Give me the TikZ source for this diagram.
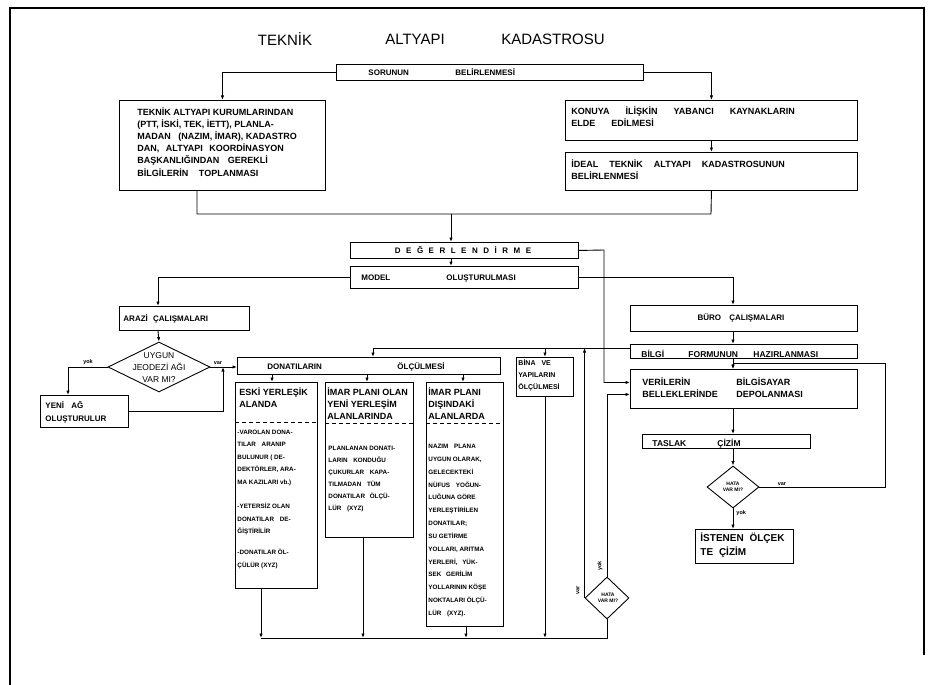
\documentclass[tikz,border=0pt]{standalone}
\usepackage{fontspec}
\setmainfont{Liberation Sans}
\usetikzlibrary{arrows.meta,shapes.geometric}
\newcommand\lsp{\hspace{5.5pt}}
\begin{document}
\begin{tikzpicture}[x=1pt,y=-1pt,line width=0.9pt,
  >={Latex[length=4.5pt,width=3.4pt]},
  box/.style={draw,line width=0.9pt,inner sep=0pt,anchor=north west},
  btxt/.style={inner sep=0pt,anchor=north west,align=left,font=\fontsize{9}{12.2}\selectfont\bfseries},
  htxt/.style={inner sep=0pt,anchor=north west,align=left,font=\fontsize{9}{12}\selectfont\bfseries},
  ctxt/.style={inner sep=0pt,anchor=north west,align=left,font=\fontsize{6.3}{12.4}\selectfont\bfseries},
  stxt/.style={inner sep=0pt,anchor=base west,font=\fontsize{8}{9}\selectfont\bfseries},
  lbl/.style={inner sep=0pt,font=\fontsize{5.5}{6}\selectfont\bfseries},
  dia/.style={draw,diamond,line width=0.9pt,inner sep=0pt},
  ttl/.style={inner sep=0pt,font=\fontsize{15}{15}\selectfont},
  sep/.style={dash pattern=on 4pt off 3pt,line width=0.7pt}
]
\useasboundingbox (0,0) rectangle (935,685);
% frame
\coordinate (f1) at (10,685);
\coordinate (f2) at (10,8);
\coordinate (f3) at (924,8);
\coordinate (f4) at (924,655);
\draw[line width=1.3pt] (f1) -- (f2) -- (f3) -- (f4);

% helper columns
\coordinate (xr) at (733,0);
\coordinate (xl) at (158,0);
\coordinate (xy) at (68,0);
\coordinate (xj) at (223,0);
\coordinate (c1) at (272,0);
\coordinate (c2) at (367,0);
\coordinate (c3) at (463,0);
\coordinate (h1) at (373,348);
\coordinate (dv) at (604,250);
\coordinate (lp) at (885,363);
\coordinate (b1) at (261,638);
\coordinate (b2) at (363,638);
\coordinate (b3) at (466,638);
\coordinate (b4) at (545,638);
\coordinate (b5) at (607,638);
\coordinate (jn) at (451,214);
\coordinate (jL) at (197,214);
\coordinate (jR) at (711,214);
\coordinate (kb) at (197,190);

% title
\node[ttl] (t1) at (285,39) {TEKNİK};
\node[ttl] (t2) at (415,39) {ALTYAPI};
\node[ttl] (t3) at (553,39) {KADASTROSU};

% top box
\node[box,minimum width=307pt,minimum height=16pt] (sor) at (336,64) {};
\node[stxt] (sorA) at (368,75.5) {SORUNUN};
\node[stxt] (sorB) at (455,75.5) {BELİRLENMESİ};

% left big box
\node[box,minimum width=206pt,minimum height=90pt] (kur) at (119,100) {};
\node[btxt] (kurT) at (137,106.9) {TEKNİK ALTYAPI KURUMLARINDAN\\
(PTT, İSKİ, TEK, İETT), PLANLA-\\
MADAN\hspace{5pt} (NAZIM, İMAR), KADASTRO\\
DAN,\hspace{4pt} ALTYAPI\hspace{4pt} KOORDİNASYON\\
BAŞKANLIĞINDAN\hspace{6pt} GEREKLİ\\
BİLGİLERİN\hspace{8pt} TOPLANMASI};

% right boxes
\node[box,minimum width=292pt,minimum height=40pt] (kon) at (565,100) {};
\node[btxt] (konT) at (571,105.9) {KONUYA\hspace{16pt}İLİŞKİN\hspace{16pt}YABANCI\hspace{16pt}KAYNAKLARIN\\ELDE\hspace{16pt}EDİLMESİ};
\node[box,minimum width=292pt,minimum height=38pt] (ide) at (565,152) {};
\node[btxt] (ideT) at (571,158.9) {İDEAL\hspace{11pt}TEKNİK\hspace{11pt}ALTYAPI\hspace{11pt}KADASTROSUNUN\\BELİRLENMESİ};

\draw[->] (sor.west) -| (kur.north);
\draw[->] (sor.east) -| (kon.north);
\draw[->] (kon.south) -- (ide.north);
\draw (kb) -- (jL) -- (jR) -- (ide.south);

% evaluation / model
\node[box,minimum width=228pt,minimum height=16pt] (deg) at (350,242) {};
\node[inner sep=0pt,font=\fontsize{8}{9}\selectfont\bfseries] (degT) at (463,250.5) {D\lsp E\lsp Ğ\lsp E\lsp R\lsp L\lsp E\lsp N\lsp D\lsp İ\lsp R\lsp M\lsp E};
\node[box,minimum width=228pt,minimum height=22pt] (model) at (350,266) {};
\node[stxt] (modA) at (361,280) {MODEL};
\node[stxt] (modB) at (446,280) {OLUŞTURULMASI};
\draw[->] (jn) -- (jn |- deg.north);
\draw[->] (deg.south -| jn) -- (model.north -| jn);

% arazi
\node[box,minimum width=130pt,minimum height=24pt] (arazi) at (119,306) {};
\node[stxt] (araT) at (123,321) {ARAZİ\hspace{3pt} ÇALIŞMALARI};
\draw[->] (model.west) -| (arazi.north -| xl);

% diamond uygun
\node[dia,minimum width=102pt,minimum height=50pt] (uyg) at (159,367) {};
\node[inner sep=0pt,align=center,font=\fontsize{8.5}{12}\selectfont] (uygT) at (159,368) {UYGUN\\JEODEZİ AĞI\\VAR MI?};
\draw[->] (arazi.south -| xl) -- (uyg.north);

% yeni ag
\node[box,minimum width=88pt,minimum height=32pt] (yeni) at (40,395) {};
\node[inner sep=0pt,anchor=north west,align=left,font=\fontsize{8}{13}\selectfont\bfseries] (yeniT) at (45,400.8) {YENİ\hspace{5pt} AĞ\\OLUŞTURULUR};
\draw[->] (uyg.west) -| (yeni.north -| xy);
\node[lbl,anchor=south] (l1) at (88,365.5) {yok};
\draw[->] (yeni.east) -| (uyg.east -| xj);

% donatilarin
\node[box,minimum width=263pt,minimum height=17pt] (don) at (237,357) {};
\node[stxt] (donA) at (267,369) {DONATILARIN};
\node[stxt] (donB) at (397,369) {ÖLÇÜLMESİ};
\draw[->] (uyg.east) -- (uyg.east -| don.west);
\node[lbl,anchor=south] (l2) at (218,365.5) {var};

% columns
\node[box,minimum width=82pt,minimum height=206pt] (eski) at (235,382) {};
\node[htxt] (eskiH) at (239,386.9) {ESKİ YERLEŞİK\\ALANDA};
\draw[sep] ([yshift=-40pt]eski.north west) -- ([yshift=-40pt]eski.north east);
\node[ctxt] (eskiT) at (237,429.7) {-VAROLAN DONA-\\
TILAR\hspace{4pt} ARANIP\\
BULUNUR ( DE-\\
DEKTÖRLER, ARA-\\
MA KAZILARI vb.)\\[12.4pt]
-YETERSİZ OLAN\\
DONATILAR\hspace{4pt} DE-\\
ĞİŞTİRİLİR\\[8.6pt]
-DONATILAR ÖL-\\
ÇÜLÜR (XYZ)};

\node[box,minimum width=88pt,minimum height=155pt] (imar) at (325,382) {};
\node[htxt] (imarH) at (327,386.9) {İMAR PLANI OLAN\\YENİ YERLEŞİM\\ALANLARINDA};
\draw[sep] ([yshift=-41pt]imar.north west) -- ([yshift=-41pt]imar.north east);
\node[ctxt,font=\fontsize{6.3}{12}\selectfont\bfseries] (imarT) at (328,445.7) {PLANLANAN DONATI-\\
LARIN\hspace{4pt} KONDUĞU\\
ÇUKURLAR\hspace{4pt} KAPA-\\
TILMADAN\hspace{4pt} TÜM\\
DONATILAR\hspace{3pt} ÖLÇÜ-\\
LÜR\hspace{4pt} (XYZ)};

\node[box,minimum width=77pt,minimum height=244pt] (dis) at (426,382) {};
\node[htxt] (disH) at (428,386.9) {İMAR PLANI\\DIŞINDAKİ\\ALANLARDA};
\draw[sep] ([yshift=-41pt]dis.north west) -- ([yshift=-41pt]dis.north east);
\node[ctxt,font=\fontsize{6.3}{12.85}\selectfont\bfseries] (disT) at (428,443.7) {NAZIM\hspace{4pt} PLANA\\
UYGUN OLARAK,\\
GELECEKTEKİ\\
NÜFUS\hspace{4pt} YOĞUN-\\
LUĞUNA GÖRE\\
YERLEŞTİRİLEN\\
DONATILAR;\\
SU GETİRME\\
YOLLARI, ARITMA\\
YERLERİ,\hspace{3pt} YÜK-\\
SEK\hspace{3pt} GERİLİM\\
YOLLARININ KÖŞE\\
NOKTALARI ÖLÇÜ-\\
LÜR\hspace{4pt} (XYZ).};

\node[box,minimum width=57pt,minimum height=39pt] (bina) at (516,357) {};
\node[inner sep=0pt,anchor=north west,align=left,font=\fontsize{7}{12}\selectfont\bfseries] (binaT) at (518,359) {BİNA\hspace{4pt} VE\\YAPILARIN\\ÖLÇÜLMESİ};

\draw[->] (don.south -| c1) -- (eski.north -| c1);
\draw[->] (don.south -| c2) -- (imar.north -| c2);
\draw[->] (don.south -| c3) -- (dis.north -| c3);

% bottom collector
\node[dia,minimum width=44pt,minimum height=42pt] (hb) at (607,598) {};
\node[inner sep=0pt,align=center,font=\fontsize{5}{6.5}\selectfont\bfseries] (hbT) at (608,598) {HATA\\VAR MI?};
\draw[->] (eski.south -| b1) -- (b1);
\draw[->] (imar.south -| b2) -- (b2);
\draw[->] (dis.south -| b3) -- (b3);
\draw[->] (bina.south -| b4) -- (b4);
\draw (b1) -- (b5) -- (hb.south);
\node[lbl,rotate=90] (l5) at (600,566) {yok};
\node[lbl,rotate=90] (l6) at (578,590) {var};

% right column
\node[box,minimum width=227pt,minimum height=26pt] (buro) at (630,305) {};
\node[inner sep=0pt,font=\fontsize{8}{9}\selectfont\bfseries] (buroT) at (741,318) {BÜRO\hspace{6pt} ÇALIŞMALARI};
\node[box,minimum width=227pt,minimum height=14pt] (bil) at (630,344) {};
\node[stxt,font=\fontsize{8.5}{9}\selectfont\bfseries] (bilA) at (641,357) {BİLGİ};
\node[stxt,font=\fontsize{8.5}{9}\selectfont\bfseries] (bilB) at (688,357) {FORMUNUN};
\node[stxt,font=\fontsize{8.5}{9}\selectfont\bfseries] (bilC) at (753,357) {HAZIRLANMASI};
\node[box,minimum width=227pt,minimum height=39pt] (ver) at (630,369) {};
\node[inner sep=0pt,anchor=north west,align=left,font=\fontsize{9}{11.7}\selectfont\bfseries] (verA) at (642,377.2) {VERİLERİN\\BELLEKLERİNDE};
\node[inner sep=0pt,anchor=north west,align=left,font=\fontsize{9}{11.7}\selectfont\bfseries] (verB) at (736,377.2) {BİLGİSAYAR\\DEPOLANMASI};
\node[box,minimum width=168pt,minimum height=14pt] (tas) at (642,434) {};
\node[stxt,font=\fontsize{8.5}{9}\selectfont\bfseries] (tasA) at (652,446.5) {TASLAK};
\node[stxt,font=\fontsize{8.5}{9}\selectfont\bfseries] (tasB) at (717,446.5) {ÇİZİM};
\node[dia,minimum width=52pt,minimum height=42pt] (hr) at (733,487) {};
\node[inner sep=0pt,align=center,font=\fontsize{5}{6.5}\selectfont\bfseries] (hrT) at (733,487) {HATA\\VAR MI?};
\node[box,minimum width=98pt,minimum height=34pt] (ist) at (695,529) {};
\node[inner sep=0pt,anchor=north west,align=left,font=\fontsize{10}{14}\selectfont\bfseries] (istT) at (700,532.6) {İSTENEN\hspace{3pt} ÖLÇEK\\TE\hspace{3pt} ÇİZİM};

\draw[->] (model.east) -| (buro.north -| xr);
\draw[->] (buro.south -| xr) -- (bil.north -| xr);
\draw[->] (bil.south -| xr) -- (ver.north -| xr);
\draw[->] (ver.south -| xr) -- (tas.north -| xr);
\draw[->] (tas.south -| xr) -- (hr.north);
\draw[->] (hr.south) -- (ist.north -| hr.south);
\draw[->] (hr.east) -| (lp) -- (lp -| xr) -- (ver.north -| xr);
\node[lbl,anchor=south] (l3) at (782,486) {var};
\node[lbl,anchor=west] (l4) at (736,513) {yok};

% cross links
\draw[->] (deg.east) -- (dv) |- ([yshift=6.5pt]ver.west);
\draw[->] (hb.north) |- ([yshift=-5.5pt]ver.west);
\draw[->] ([yshift=3pt]bil.west) -| (don.north -| h1);
\draw[->] (bina.north |- h1) -- (bina.north);
\draw[->] (hb.west) -- (hb.west |- h1);
\end{tikzpicture}
\end{document}
